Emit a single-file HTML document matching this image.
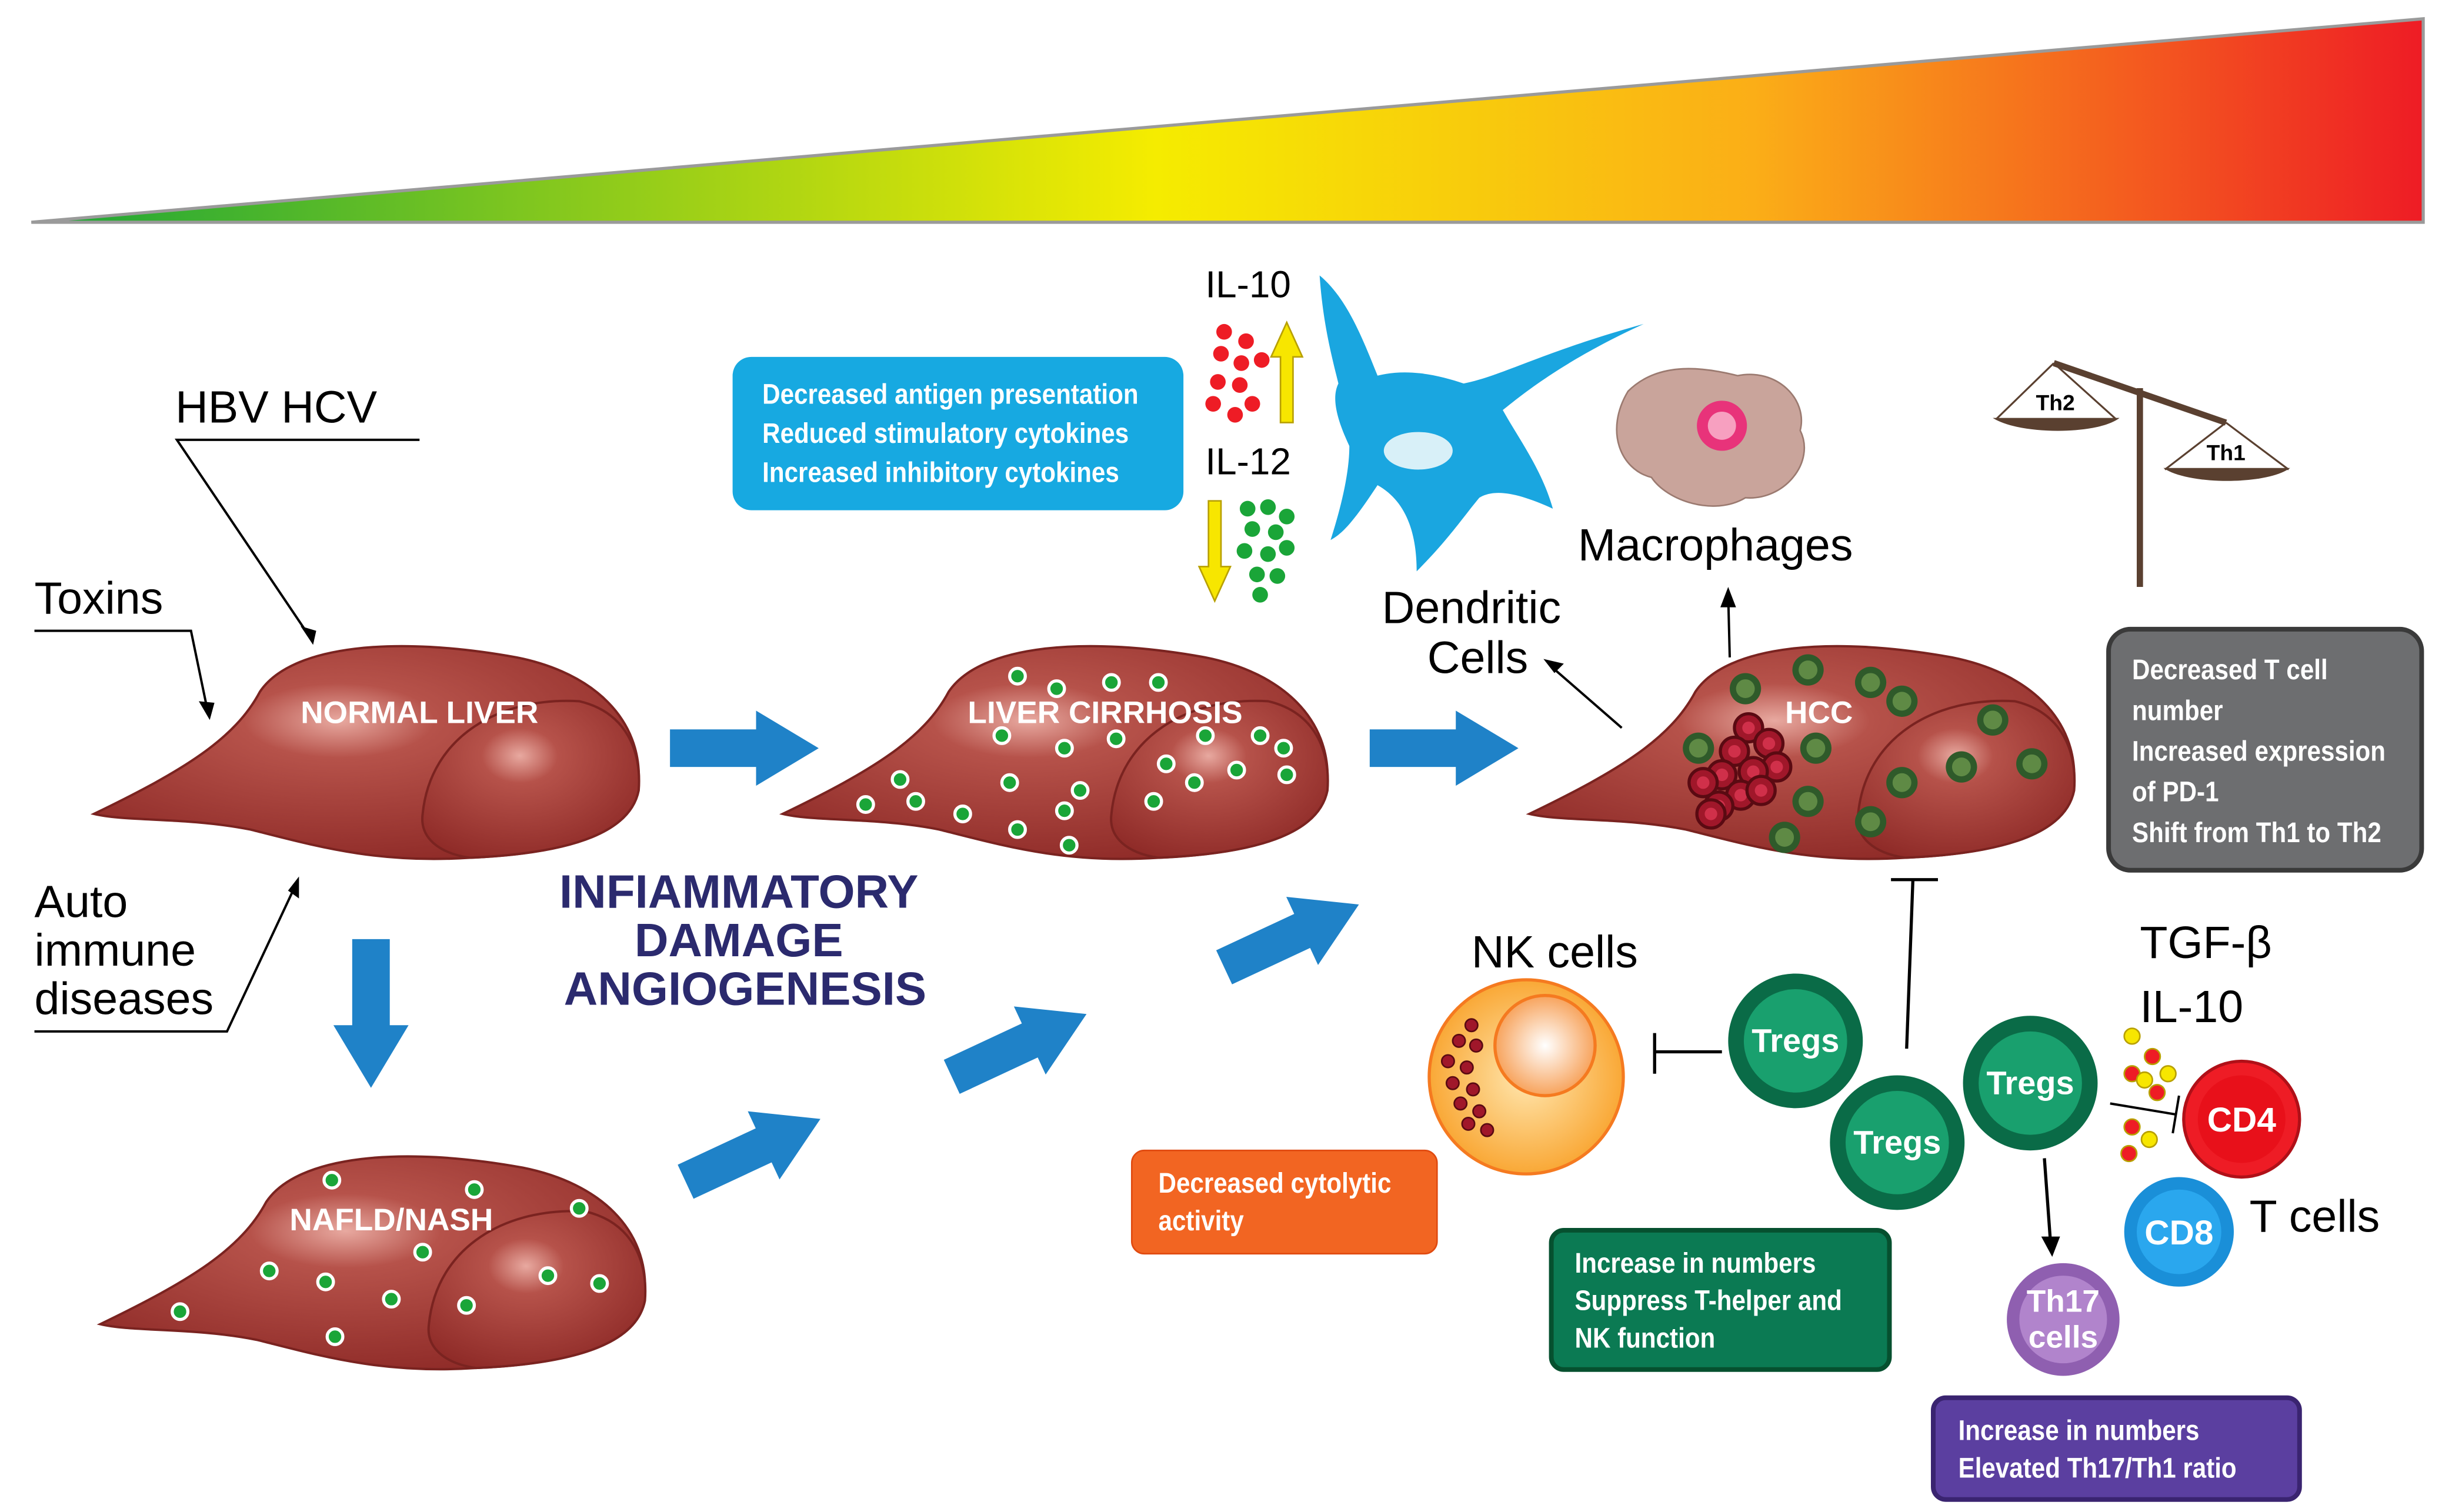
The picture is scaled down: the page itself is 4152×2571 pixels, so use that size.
<!DOCTYPE html>
<html><head><meta charset="utf-8"><style>
html,body{margin:0;padding:0;background:#fff}
svg{display:block}
text{font-family:"Liberation Sans",sans-serif}
.w{fill:#fff;font-weight:bold}
</style></head><body>
<svg width="4152" height="2571" viewBox="0 0 1560 966" preserveAspectRatio="none" xmlns="http://www.w3.org/2000/svg">
<defs>
<linearGradient id="tri" x1="0" x2="1" y1="0" y2="0">
<stop offset="0" stop-color="#1aa538"/><stop offset="0.2" stop-color="#7cc520"/><stop offset="0.47" stop-color="#f5ec00"/><stop offset="0.72" stop-color="#fbae17"/><stop offset="1" stop-color="#ee1c25"/>
</linearGradient>
<radialGradient id="lv" cx="0.45" cy="0.35" r="0.7">
<stop offset="0" stop-color="#e8a9a0"/><stop offset="0.25" stop-color="#b6524a"/><stop offset="1" stop-color="#8e2a27"/>
</radialGradient>
<radialGradient id="nk" cx="0.5" cy="0.5" r="0.5">
<stop offset="0" stop-color="#ffe7b0"/><stop offset="1" stop-color="#f9a836"/>
</radialGradient>
<radialGradient id="nki" cx="0.5" cy="0.5" r="0.5">
<stop offset="0" stop-color="#fff"/><stop offset="1" stop-color="#f7a35c"/>
</radialGradient>
<g id="liver">
<path d="M2 110 C60 82 92 62 108 32 C128 2 195 -4 272 10 C322 20 352 50 350 90 C347 120 312 135 242 138 C182 142 142 130 102 120 C62 112 22 115 2 110 Z" fill="url(#lv)" stroke="#7a2320" stroke-width="1.5"/>
<path d="M212 110 C217 60 262 35 312 38 C342 45 352 70 350 95 C345 120 312 135 242 138 C222 135 210 125 212 110 Z" fill="url(#lv)" stroke="#7a2320" stroke-width="1.5"/>
</g>
<g id="dot"><circle r="5" fill="#1aa538" stroke="#fff" stroke-width="2"/></g>
<g id="arr"><path d="M0 -12 L55 -12 L55 -24 L95 0 L55 24 L55 12 L0 12 Z" fill="#1f82c8"/></g>
<g id="tum"><circle r="10" fill="#2f5a2a"/><circle r="6" fill="#5f8a45"/></g>
<g id="rc"><circle r="9" fill="#a0172a" stroke="#5a0a12" stroke-width="2"/><circle r="4" fill="#d0304a"/></g>
<g id="red"><circle r="5" fill="#ee1c25"/></g>
<g id="grn"><circle r="5" fill="#1aa538"/></g>
</defs>

<polygon points="20,142 1548,12 1548,142" fill="url(#tri)" stroke="#9a9a9a" stroke-width="2"/>

<text x="112" y="270" font-size="29">HBV  HCV</text>
<polyline points="268,281 113,281 200,410" fill="none" stroke="#000" stroke-width="1.5"/>
<path d="M200 412 L192 400 L202 403 Z" fill="#000"/>
<text x="22" y="392" font-size="29">Toxins</text>
<polyline points="22,403 122,403 133,456" fill="none" stroke="#000" stroke-width="1.5"/>
<path d="M134 460 L127 448 L137 449 Z" fill="#000"/>
<text x="22" y="586" font-size="29">Auto</text>
<text x="22" y="617" font-size="29">immune</text>
<text x="22" y="648" font-size="29">diseases</text>
<polyline points="22,659 145,659 190,563" fill="none" stroke="#000" stroke-width="1.5"/>
<path d="M191 560 L191 574 L184 569 Z" fill="#000"/>

<use href="#liver" x="58" y="410"/>
<text x="268" y="462" class="w" font-size="20" text-anchor="middle">NORMAL LIVER</text>
<use href="#liver" x="498" y="410"/>
<g>
<use href="#dot" x="650" y="432"/><use href="#dot" x="675" y="440"/><use href="#dot" x="710" y="436"/><use href="#dot" x="740" y="436"/>
<use href="#dot" x="640" y="470"/><use href="#dot" x="680" y="478"/><use href="#dot" x="713" y="472"/><use href="#dot" x="770" y="470"/>
<use href="#dot" x="805" y="470"/><use href="#dot" x="820" y="478"/><use href="#dot" x="575" y="498"/><use href="#dot" x="645" y="500"/>
<use href="#dot" x="690" y="505"/><use href="#dot" x="745" y="488"/><use href="#dot" x="790" y="492"/><use href="#dot" x="822" y="495"/>
<use href="#dot" x="553" y="514"/><use href="#dot" x="585" y="512"/><use href="#dot" x="615" y="520"/><use href="#dot" x="680" y="518"/>
<use href="#dot" x="737" y="512"/><use href="#dot" x="763" y="500"/><use href="#dot" x="650" y="530"/><use href="#dot" x="683" y="540"/>
</g>
<text x="706" y="462" class="w" font-size="20" text-anchor="middle">LIVER CIRRHOSIS</text>

<use href="#liver" x="975" y="410"/>
<g>
<use href="#tum" x="1115" y="440"/><use href="#tum" x="1155" y="428"/><use href="#tum" x="1195" y="436"/><use href="#tum" x="1215" y="448"/>
<use href="#tum" x="1085" y="478"/><use href="#tum" x="1160" y="478"/><use href="#tum" x="1273" y="460"/><use href="#tum" x="1253" y="490"/>
<use href="#tum" x="1298" y="488"/><use href="#tum" x="1215" y="500"/><use href="#tum" x="1155" y="512"/><use href="#tum" x="1140" y="535"/><use href="#tum" x="1195" y="525"/>
</g>
<g>
<use href="#rc" x="1117" y="465"/><use href="#rc" x="1130" y="475"/><use href="#rc" x="1108" y="480"/><use href="#rc" x="1135" y="490"/>
<use href="#rc" x="1120" y="493"/><use href="#rc" x="1100" y="495"/><use href="#rc" x="1088" y="500"/><use href="#rc" x="1112" y="508"/>
<use href="#rc" x="1098" y="515"/><use href="#rc" x="1093" y="520"/><use href="#rc" x="1125" y="505"/>
</g>
<text x="1162" y="462" class="w" font-size="20" text-anchor="middle">HCC</text>

<use href="#liver" x="62" y="736"/>
<g>
<use href="#dot" x="212" y="754"/><use href="#dot" x="303" y="760"/><use href="#dot" x="370" y="772"/><use href="#dot" x="270" y="800"/>
<use href="#dot" x="172" y="812"/><use href="#dot" x="208" y="819"/><use href="#dot" x="250" y="830"/><use href="#dot" x="298" y="834"/>
<use href="#dot" x="350" y="815"/><use href="#dot" x="383" y="820"/><use href="#dot" x="115" y="838"/><use href="#dot" x="214" y="854"/>
</g>
<text x="250" y="786" class="w" font-size="20" text-anchor="middle">NAFLD/NASH</text>

<use href="#arr" transform="translate(428,478)"/>
<use href="#arr" transform="translate(875,478)"/>
<use href="#arr" transform="translate(237,600) rotate(90)"/>
<use href="#arr" transform="translate(438,755) rotate(-25)"/>
<use href="#arr" transform="translate(608,688) rotate(-25)"/>
<use href="#arr" transform="translate(782,618) rotate(-25)"/>

<text x="472" y="580" font-size="30" font-weight="bold" fill="#2b2a6e" text-anchor="middle">INFIAMMATORY</text>
<text x="472" y="611" font-size="30" font-weight="bold" fill="#2b2a6e" text-anchor="middle">DAMAGE</text>
<text x="476" y="642" font-size="30" font-weight="bold" fill="#2b2a6e" text-anchor="middle">ANGIOGENESIS</text>

<rect x="468" y="228" width="288" height="98" rx="12" fill="#17a9e1"/>
<g transform="translate(487,0) scale(0.88,1) translate(-487,0)">
<text x="487" y="258" class="w" font-size="18">Decreased antigen presentation</text>
<text x="487" y="283" class="w" font-size="18">Reduced stimulatory cytokines</text>
<text x="487" y="308" class="w" font-size="18">Increased inhibitory cytokines</text>
</g>

<text x="770" y="190" font-size="24">IL-10</text>
<g>
<use href="#red" x="782" y="212"/><use href="#red" x="796" y="218"/><use href="#red" x="780" y="226"/><use href="#red" x="793" y="232"/><use href="#red" x="806" y="230"/>
<use href="#red" x="778" y="244"/><use href="#red" x="792" y="246"/><use href="#red" x="800" y="258"/><use href="#red" x="775" y="258"/><use href="#red" x="789" y="265"/>
</g>
<path d="M818 270 L818 228 L812 228 L822 206 L832 228 L826 228 L826 270 Z" fill="#f7e600" stroke="#b8a000" stroke-width="1"/>
<text x="770" y="303" font-size="24">IL-12</text>
<g>
<use href="#grn" x="797" y="325"/><use href="#grn" x="810" y="324"/><use href="#grn" x="822" y="330"/><use href="#grn" x="800" y="338"/><use href="#grn" x="815" y="340"/>
<use href="#grn" x="795" y="352"/><use href="#grn" x="810" y="354"/><use href="#grn" x="822" y="350"/><use href="#grn" x="803" y="367"/><use href="#grn" x="816" y="368"/><use href="#grn" x="805" y="380"/>
</g>
<path d="M772 320 L772 362 L766 362 L776 384 L786 362 L780 362 L780 320 Z" fill="#f7e600" stroke="#b8a000" stroke-width="1"/>

<path d="M843 176 C860 190 870 215 880 240 C900 235 920 240 935 245 C960 240 985 225 1050 207 C1000 230 975 250 960 262 C970 280 985 300 992 325 C970 315 955 312 945 318 C935 330 925 345 905 365 C905 340 898 320 880 310 C870 325 860 340 850 345 C858 320 862 300 862 285 C855 270 850 255 855 245 C850 225 845 205 843 176 Z" fill="#1aa6e0"/>
<ellipse cx="906" cy="288" rx="22" ry="12" fill="#d8f0f8"/>
<text x="940" y="398" font-size="29" text-anchor="middle">Dendritic</text>
<text x="944" y="430" font-size="29" text-anchor="middle">Cells</text>
<line x1="1036" y1="465" x2="990" y2="425" stroke="#000" stroke-width="1.5"/>
<path d="M986 421 L999 424 L993 430 Z" fill="#000"/>

<path d="M1040 250 C1060 230 1090 235 1110 240 C1135 235 1155 255 1150 275 C1160 295 1140 320 1115 318 C1095 330 1065 320 1055 305 C1035 300 1025 275 1040 250 Z" fill="#c9a49b" stroke="#9b7a70" stroke-width="1"/>
<circle cx="1100" cy="272" r="16" fill="#e8337a"/><circle cx="1100" cy="272" r="9" fill="#f7a0c0"/>
<text x="1008" y="358" font-size="29">Macrophages</text>
<line x1="1105" y1="420" x2="1104" y2="380" stroke="#000" stroke-width="1.5"/>
<path d="M1104 375 L1109 388 L1099 388 Z" fill="#000"/>

<line x1="1367" y1="248" x2="1367" y2="375" stroke="#5a4030" stroke-width="4"/>
<line x1="1312" y1="232" x2="1422" y2="270" stroke="#5a4030" stroke-width="4"/>
<line x1="1312" y1="232" x2="1275" y2="268" stroke="#5a4030" stroke-width="1.2"/>
<line x1="1312" y1="232" x2="1352" y2="268" stroke="#5a4030" stroke-width="1.2"/>
<path d="M1273 267 L1354 267 C1340 278 1290 278 1273 267 Z" fill="#5a4030"/>
<text x="1313" y="262" font-size="14" font-weight="bold" text-anchor="middle">Th2</text>
<line x1="1422" y1="270" x2="1383" y2="300" stroke="#5a4030" stroke-width="1.2"/>
<line x1="1422" y1="270" x2="1462" y2="300" stroke="#5a4030" stroke-width="1.2"/>
<path d="M1382 299 L1463 299 C1448 310 1398 310 1382 299 Z" fill="#5a4030"/>
<text x="1422" y="294" font-size="14" font-weight="bold" text-anchor="middle">Th1</text>

<rect x="1347" y="402" width="200" height="154" rx="14" fill="#6d6e70" stroke="#3a3a3a" stroke-width="3"/>
<g transform="translate(1362,0) scale(0.88,1) translate(-1362,0)">
<text x="1362" y="434" class="w" font-size="18">Decreased T cell</text>
<text x="1362" y="460" class="w" font-size="18">number</text>
<text x="1362" y="486" class="w" font-size="18">Increased expression</text>
<text x="1362" y="512" class="w" font-size="18">of PD-1</text>
<text x="1362" y="538" class="w" font-size="18">Shift from Th1 to Th2</text>
</g>

<text x="940" y="618" font-size="29">NK cells</text>
<circle cx="975" cy="688" r="62" fill="url(#nk)" stroke="#f57a20" stroke-width="2"/>
<circle cx="987" cy="668" r="32" fill="url(#nki)" stroke="#f57a20" stroke-width="2"/>
<g fill="#a0172a" stroke="#5a0a12" stroke-width="1">
<circle cx="940" cy="655" r="4"/><circle cx="932" cy="665" r="4"/><circle cx="943" cy="668" r="4"/><circle cx="925" cy="678" r="4"/><circle cx="937" cy="682" r="4"/>
<circle cx="928" cy="692" r="4"/><circle cx="941" cy="696" r="4"/><circle cx="933" cy="705" r="4"/><circle cx="945" cy="710" r="4"/><circle cx="938" cy="718" r="4"/><circle cx="950" cy="722" r="4"/>
</g>
<line x1="1100" y1="672" x2="1057" y2="672" stroke="#000" stroke-width="2"/>
<line x1="1057" y1="660" x2="1057" y2="686" stroke="#000" stroke-width="2"/>
<line x1="1218" y1="670" x2="1222" y2="562" stroke="#000" stroke-width="2"/>
<line x1="1208" y1="562" x2="1238" y2="562" stroke="#000" stroke-width="2"/>

<g>
<circle cx="1147" cy="665" r="43" fill="#0a6b47"/><circle cx="1147" cy="665" r="33" fill="#19a06e"/>
<text x="1147" y="672" class="w" font-size="21" text-anchor="middle">Tregs</text>
<circle cx="1212" cy="730" r="43" fill="#0a6b47"/><circle cx="1212" cy="730" r="33" fill="#19a06e"/>
<text x="1212" y="737" class="w" font-size="21" text-anchor="middle">Tregs</text>
<circle cx="1297" cy="692" r="43" fill="#0a6b47"/><circle cx="1297" cy="692" r="33" fill="#19a06e"/>
<text x="1297" y="699" class="w" font-size="21" text-anchor="middle">Tregs</text>
</g>
<text x="1367" y="612" font-size="29">TGF-β</text>
<text x="1367" y="653" font-size="29">IL-10</text>
<g stroke="#b8a000" stroke-width="1">
<circle cx="1362" cy="662" r="5" fill="#f7e600"/><circle cx="1375" cy="675" r="5" fill="#ee1c25"/><circle cx="1362" cy="686" r="5" fill="#ee1c25"/>
<circle cx="1385" cy="686" r="5" fill="#f7e600"/><circle cx="1370" cy="690" r="5" fill="#f7e600"/><circle cx="1378" cy="698" r="5" fill="#ee1c25"/>
<circle cx="1362" cy="720" r="5" fill="#ee1c25"/><circle cx="1373" cy="728" r="5" fill="#f7e600"/><circle cx="1360" cy="737" r="5" fill="#ee1c25"/>
</g>
<line x1="1348" y1="705" x2="1390" y2="712" stroke="#000" stroke-width="1.5"/>
<line x1="1392" y1="700" x2="1388" y2="724" stroke="#000" stroke-width="1.5"/>
<circle cx="1432" cy="715" r="37" fill="#ee1c25" stroke="#b01018" stroke-width="2"/><circle cx="1432" cy="715" r="28" fill="#e8101a"/>
<text x="1432" y="723" class="w" font-size="22" text-anchor="middle">CD4</text>
<circle cx="1392" cy="787" r="35" fill="#1a8fd8"/><circle cx="1392" cy="787" r="27" fill="#2aa7ee"/>
<text x="1392" y="795" class="w" font-size="22" text-anchor="middle">CD8</text>
<text x="1437" y="787" font-size="29">T cells</text>
<line x1="1306" y1="740" x2="1310" y2="795" stroke="#000" stroke-width="2"/>
<path d="M1311 803 L1304 790 L1316 790 Z" fill="#000"/>
<circle cx="1318" cy="843" r="36" fill="#8f5fb0"/><circle cx="1318" cy="843" r="28" fill="#b184cc"/>
<text x="1318" y="838" class="w" font-size="20" text-anchor="middle">Th17</text>
<text x="1318" y="861" class="w" font-size="20" text-anchor="middle">cells</text>

<rect x="723" y="735" width="195" height="66" rx="8" fill="#f26522" stroke="#e04a10"/>
<g transform="translate(740,0) scale(0.88,1) translate(-740,0)">
<text x="740" y="762" class="w" font-size="18">Decreased cytolytic</text>
<text x="740" y="786" class="w" font-size="18">activity</text>
</g>
<rect x="991" y="786" width="216" height="89" rx="8" fill="#0b7a53" stroke="#06502f" stroke-width="3"/>
<g transform="translate(1006,0) scale(0.88,1) translate(-1006,0)">
<text x="1006" y="813" class="w" font-size="18">Increase in numbers</text>
<text x="1006" y="837" class="w" font-size="18">Suppress T-helper and</text>
<text x="1006" y="861" class="w" font-size="18">NK function</text>
</g>
<rect x="1235" y="893" width="234" height="65" rx="8" fill="#5b3fa0" stroke="#3a2470" stroke-width="3"/>
<g transform="translate(1251,0) scale(0.88,1) translate(-1251,0)">
<text x="1251" y="920" class="w" font-size="18">Increase in numbers</text>
<text x="1251" y="944" class="w" font-size="18">Elevated Th17/Th1 ratio</text>
</g>
</svg>
</body></html>
